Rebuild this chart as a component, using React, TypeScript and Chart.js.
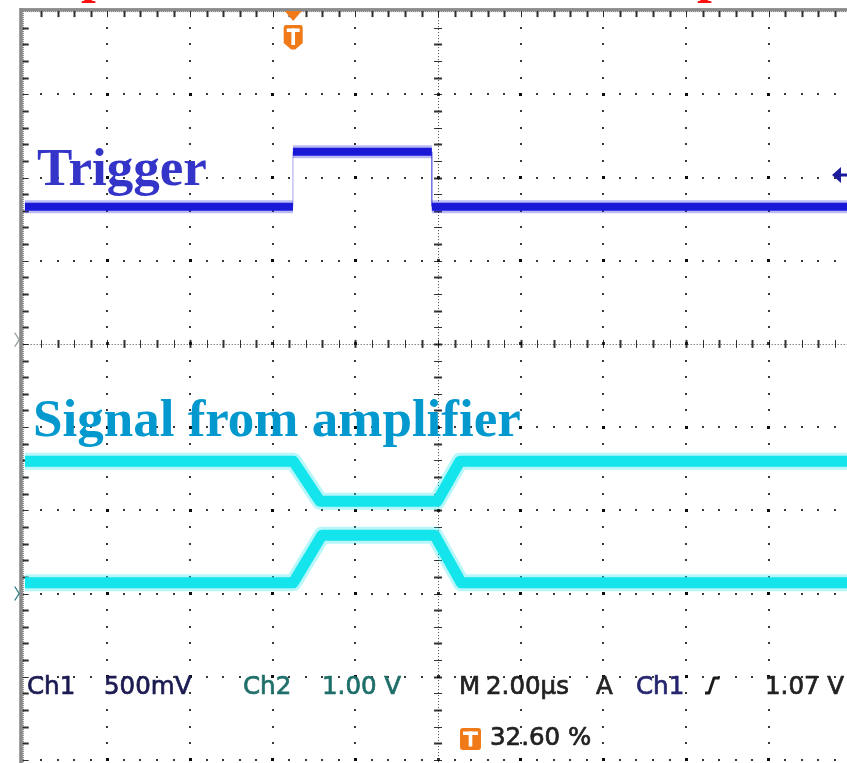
import React, { useEffect, useRef } from "react";
import { Chart, registerables } from "chart.js";

Chart.register(...registerables);

// Horizontal axis: time in µs (2 µs per division). Vertical axis: screen divisions, centre = 0.
const US_PER_DIV = 2;
const H_DIVS = 10;

// Ch1 – trigger pulse
const ch1TimeUs = [0, 6.49, 6.49, 9.85, 9.85, 19.9];
const ch1Div = [1.65, 1.65, 2.31, 2.31, 1.65, 1.65];

// Amplifier output, inverted copy (upper) and direct copy (lower)
const ampUpperTimeUs = [0, 6.5, 7.14, 9.98, 10.53, 19.9];
const ampUpperDiv = [-1.41, -1.41, -1.89, -1.89, -1.41, -1.41];
const ampLowerTimeUs = [0, 6.5, 7.19, 9.92, 10.56, 19.9];
const ampLowerDiv = [-2.87, -2.87, -2.3, -2.3, -2.87, -2.87];

// Scope settings shown in the readout
const triggerPositionPct = 32.6;
const triggerLevelDiv = 2.03;
const groundMarkersDiv = [0.05, -3.0];

const traceLabels = ["Trigger", "Signal from amplifier"];
const readoutCh1 = ["Ch1", "500mV"];
const readoutCh2 = ["Ch2", "1.00 V"];
const readoutTime = ["M", "2.00µs", "A", "Ch1", "1.07 V"];
const readoutTrigPos = `${triggerPositionPct.toFixed(2)} %`;

// Visible window of the graticule
const X_MIN = 0;
const X_MAX = 19.894;
const Y_MAX = 4;
const Y_MIN = -5.037;

const BLUE = "#1818d6";
const BLUE_HALO = "rgba(40,40,225,0.32)";
const CYAN = "#14e4ec";
const CYAN_HALO = "rgba(30,226,236,0.32)";
const ORANGE = "#f07a18";

const toPoints = (t: number[], v: number[]) => t.map((x, i) => ({ x, y: v[i] }));
const isEdge = (c: any) => c.p0.parsed.x === c.p1.parsed.x;

function drawTIcon(ctx: CanvasRenderingContext2D, x: number, y: number, w: number, h: number) {
  ctx.fillStyle = ORANGE;
  ctx.beginPath();
  ctx.roundRect(x, y, w, h, 3);
  ctx.fill();
  ctx.fillStyle = "#fff";
  ctx.fillRect(x + 3, y + 3.5, w - 6, 3.5);
  ctx.fillRect(x + w / 2 - 1.8, y + 3.5, 3.6, h - 7);
}

// readout text is a little heavier than the regular face
function readoutText(ctx: CanvasRenderingContext2D, text: string, x: number, y: number, color: string) {
  ctx.fillStyle = color;
  ctx.strokeStyle = color;
  ctx.lineWidth = 0.7;
  ctx.fillText(text, x, y);
  ctx.strokeText(text, x, y);
}

const graticulePlugin = {
  id: "graticule",
  beforeDatasetsDraw(chart: any) {
    const { ctx, chartArea: a, scales } = chart;
    const px = (v: number) => scales.x.getPixelForValue(v);
    const py = (v: number) => scales.y.getPixelForValue(v);
    const minorX = US_PER_DIV / 5;
    ctx.save();
    ctx.fillStyle = "#fff";
    ctx.fillRect(0, 0, chart.width, chart.height);

    // dotted major lines
    ctx.fillStyle = "rgba(0,0,0,0.78)";
    for (let k = 1; k <= H_DIVS; k++) {
      if (k === 5) continue;
      const x = px(k * US_PER_DIV);
      if (x > a.right + 2) continue;
      for (let m = -26; m <= 20; m++) {
        const y = py(m / 5);
        if (y < a.top + 4 || y > a.bottom) continue;
        const s = m % 5 === 0 ? 3 : 2;
        ctx.fillRect(Math.round(x - s / 2), Math.round(y - s / 2), s, s);
      }
    }
    for (let j = -5; j <= 3; j++) {
      if (j === 0) continue;
      const y = py(j);
      for (let m = 1; m <= 50; m++) {
        const x = px(m * minorX);
        if (x > a.right) continue;
        const s = m % 5 === 0 ? 3 : 2;
        ctx.fillRect(Math.round(x - s / 2), Math.round(y - s / 2), s, s);
      }
    }

    // centre cross with minor ticks
    const cx = px(5 * US_PER_DIV);
    const cy = py(0);
    ctx.strokeStyle = "rgba(0,0,0,0.7)";
    ctx.lineWidth = 1;
    ctx.setLineDash([1, 2]);
    ctx.beginPath();
    ctx.moveTo(Math.round(cx) + 0.5, a.top);
    ctx.lineTo(Math.round(cx) + 0.5, a.bottom);
    ctx.moveTo(a.left, Math.round(cy) + 0.5);
    ctx.lineTo(a.right, Math.round(cy) + 0.5);
    ctx.stroke();
    ctx.setLineDash([]);
    ctx.strokeStyle = "rgba(0,0,0,0.8)";
    for (let m = -26; m <= 20; m++) {
      const y = Math.round(py(m / 5)) + 0.5;
      if (y < a.top + 4 || y > a.bottom) continue;
      ctx.lineWidth = m % 2 === 0 ? 2 : 1;
      ctx.beginPath();
      ctx.moveTo(cx - 4, y);
      ctx.lineTo(cx + 4, y);
      ctx.stroke();
    }
    for (let m = 1; m <= 50; m++) {
      const x = Math.round(px(m * minorX)) + 0.5;
      if (x > a.right) continue;
      ctx.lineWidth = m % 2 === 0 ? 2 : 1;
      ctx.beginPath();
      ctx.moveTo(x, cy - 4);
      ctx.lineTo(x, cy + 4);
      ctx.stroke();
    }

    // frame: grey border on top and left with minor ticks
    ctx.fillStyle = "#8a8a8a";
    ctx.fillRect(a.left - 5, a.top - 3, a.right - a.left + 5, 3);
    ctx.fillRect(a.left - 5.5, a.top - 3, 3.5, a.bottom - a.top + 3);
    ctx.fillStyle = "rgba(0,0,0,0.7)";
    for (let x = a.left; x < a.right; x += 2) ctx.fillRect(x, a.top, 1, 1);
    for (let y = a.top; y < a.bottom; y += 2) ctx.fillRect(a.left - 2, y, 1, 1);
    ctx.strokeStyle = "rgba(0,0,0,0.82)";
    for (let m = 1; m <= 50; m++) {
      const x = Math.round(px(m * minorX)) + 0.5;
      if (x > a.right) continue;
      ctx.lineWidth = m % 5 === 0 ? 1 : 2;
      ctx.beginPath();
      ctx.moveTo(x, a.top);
      ctx.lineTo(x, a.top + 6);
      ctx.stroke();
    }
    for (let m = -26; m <= 19; m++) {
      const y = Math.round(py(m / 5)) + 0.5;
      if (y > a.bottom) continue;
      ctx.lineWidth = m % 5 === 0 ? 1 : 2;
      ctx.beginPath();
      ctx.moveTo(a.left - 2, y);
      ctx.lineTo(a.left + 4, y);
      ctx.stroke();
    }
    ctx.restore();
  },
};

const annotationPlugin = {
  id: "scopeAnnotations",
  afterDatasetsDraw(chart: any) {
    const { ctx, chartArea: a, scales } = chart;
    const px = (v: number) => scales.x.getPixelForValue(v);
    const py = (v: number) => scales.y.getPixelForValue(v);
    ctx.save();

    // cut-off heading letters above the frame
    ctx.fillStyle = "#ff1010";
    ctx.font = "bold 53px 'Liberation Serif'";
    ctx.textBaseline = "alphabetic";
    ctx.fillText("p", 81, -8);
    ctx.fillText("p", 697, -8);

    // trace captions
    ctx.fillStyle = "#3434c8";
    ctx.fillText(traceLabels[0], 37, 185);
    ctx.fillStyle = "#0399cf";
    ctx.fillText(traceLabels[1], 33, 436);

    // trigger position marker
    const tx = px((triggerPositionPct / 100) * H_DIVS * US_PER_DIV) - 1;
    ctx.fillStyle = ORANGE;
    ctx.beginPath();
    ctx.moveTo(tx - 8.5, a.top);
    ctx.lineTo(tx + 8.5, a.top);
    ctx.lineTo(tx, a.top + 10);
    ctx.closePath();
    ctx.fill();
    ctx.beginPath();
    ctx.moveTo(tx - 7, 25);
    ctx.lineTo(tx + 7, 25);
    ctx.quadraticCurveTo(tx + 9.5, 25, tx + 9.5, 28);
    ctx.lineTo(tx + 9.5, 43);
    ctx.lineTo(tx + 2, 49.5);
    ctx.lineTo(tx - 2, 49.5);
    ctx.lineTo(tx - 9.5, 43);
    ctx.lineTo(tx - 9.5, 28);
    ctx.quadraticCurveTo(tx - 9.5, 25, tx - 7, 25);
    ctx.fill();
    ctx.fillStyle = "#fff";
    ctx.fillRect(tx - 6.5, 28.5, 13, 3.5);
    ctx.fillRect(tx - 1.8, 28.5, 3.6, 16.5);

    // trigger level marker on the right edge
    const ly = py(triggerLevelDiv);
    ctx.fillStyle = "#1c1c9c";
    ctx.beginPath();
    ctx.moveTo(a.right - 15, ly);
    ctx.lineTo(a.right - 6, ly - 8);
    ctx.lineTo(a.right - 6, ly + 8);
    ctx.closePath();
    ctx.fill();
    ctx.fillRect(a.right - 7, ly - 1.5, 7, 3);

    // channel ground markers on the left edge
    ctx.lineWidth = 1.3;
    groundMarkersDiv.forEach((g, i) => {
      const gy = py(g);
      ctx.strokeStyle = i === 0 ? "#8a9a9a" : "#2a7c84";
      ctx.beginPath();
      ctx.moveTo(a.left - 10, gy - 7);
      ctx.lineTo(a.left - 5.5, gy);
      ctx.lineTo(a.left - 10, gy + 7);
      ctx.stroke();
    });

    // readout
    ctx.font = "24.5px 'DejaVu Sans'";
    const base = 694;
    readoutText(ctx, readoutCh1[0], 27, base, "#1b1b52");
    readoutText(ctx, readoutCh1[1], 104, base, "#1b1b52");
    readoutText(ctx, readoutCh2[0], 243, base, "#1f6f6a");
    readoutText(ctx, readoutCh2[1], 322, base, "#1f6f6a");
    readoutText(ctx, readoutTime[0], 459, base, "#222");
    readoutText(ctx, readoutTime[1], 486, base, "#222");
    readoutText(ctx, readoutTime[2], 596, base, "#222");
    readoutText(ctx, readoutTime[3], 636, base, "#24246e");
    readoutText(ctx, readoutTime[4], 765, base, "#222");
    // rising-edge slope symbol
    ctx.strokeStyle = "#1a1a1a";
    ctx.lineWidth = 2.8;
    ctx.lineJoin = "round";
    ctx.beginPath();
    ctx.moveTo(705, base - 1);
    ctx.lineTo(709, base - 1);
    ctx.lineTo(714, base - 16);
    ctx.lineTo(719.5, base - 16);
    ctx.stroke();

    drawTIcon(ctx, 460, 728, 21, 22);
    readoutText(ctx, readoutTrigPos, 490, 745, "#222");

    ctx.restore();
  },
};

export default function App() {
  const ref = useRef<HTMLCanvasElement>(null);

  useEffect(() => {
    const canvas = ref.current;
    if (!canvas) return;
    const edgeStyle = (thin: string, normal: number) => ({
      borderColor: (c: any) => (isEdge(c) ? thin : undefined),
      borderWidth: (c: any) => (isEdge(c) ? 1 : normal),
    });
    const chart = new Chart(canvas, {
      type: "line",
      data: {
        datasets: [
          {
            label: "Ch1",
            data: toPoints(ch1TimeUs, ch1Div),
            borderColor: BLUE,
            borderWidth: 8,
            order: 1,
            segment: edgeStyle("rgba(30,30,210,0.4)", 8),
          },
          {
            label: "Ch1 noise",
            data: toPoints(ch1TimeUs, ch1Div),
            borderColor: BLUE_HALO,
            borderWidth: 13,
            order: 2,
            segment: edgeStyle("rgba(0,0,0,0)", 13),
          },
          {
            label: "Amplifier (inverted)",
            data: toPoints(ampUpperTimeUs, ampUpperDiv),
            borderColor: CYAN,
            borderWidth: 11,
            order: 1,
          },
          {
            label: "Amplifier (inverted) noise",
            data: toPoints(ampUpperTimeUs, ampUpperDiv),
            borderColor: CYAN_HALO,
            borderWidth: 17,
            order: 2,
          },
          {
            label: "Amplifier",
            data: toPoints(ampLowerTimeUs, ampLowerDiv),
            borderColor: CYAN,
            borderWidth: 11,
            order: 1,
          },
          {
            label: "Amplifier noise",
            data: toPoints(ampLowerTimeUs, ampLowerDiv),
            borderColor: CYAN_HALO,
            borderWidth: 17,
            order: 2,
          },
        ],
      },
      options: {
        animation: false,
        responsive: false,
        devicePixelRatio: 1,
        events: [],
        layout: { padding: { left: 24.7, top: 11.1, right: 0, bottom: 0 } },
        elements: {
          point: { radius: 0 },
          line: { tension: 0, borderJoinStyle: "round", borderCapStyle: "butt", fill: false },
        },
        scales: {
          x: { type: "linear", display: false, min: X_MIN, max: X_MAX },
          y: { type: "linear", display: false, min: Y_MIN, max: Y_MAX },
        },
        plugins: { legend: { display: false }, tooltip: { enabled: false } },
      },
      plugins: [graticulePlugin, annotationPlugin],
    } as any);
    return () => chart.destroy();
  }, []);

  return (
    <div style={{ position: "absolute", left: 0, top: 0, width: 847, height: 763, background: "#fff" }}>
      <canvas ref={ref} width={847} height={763} style={{ display: "block" }} />
    </div>
  );
}
